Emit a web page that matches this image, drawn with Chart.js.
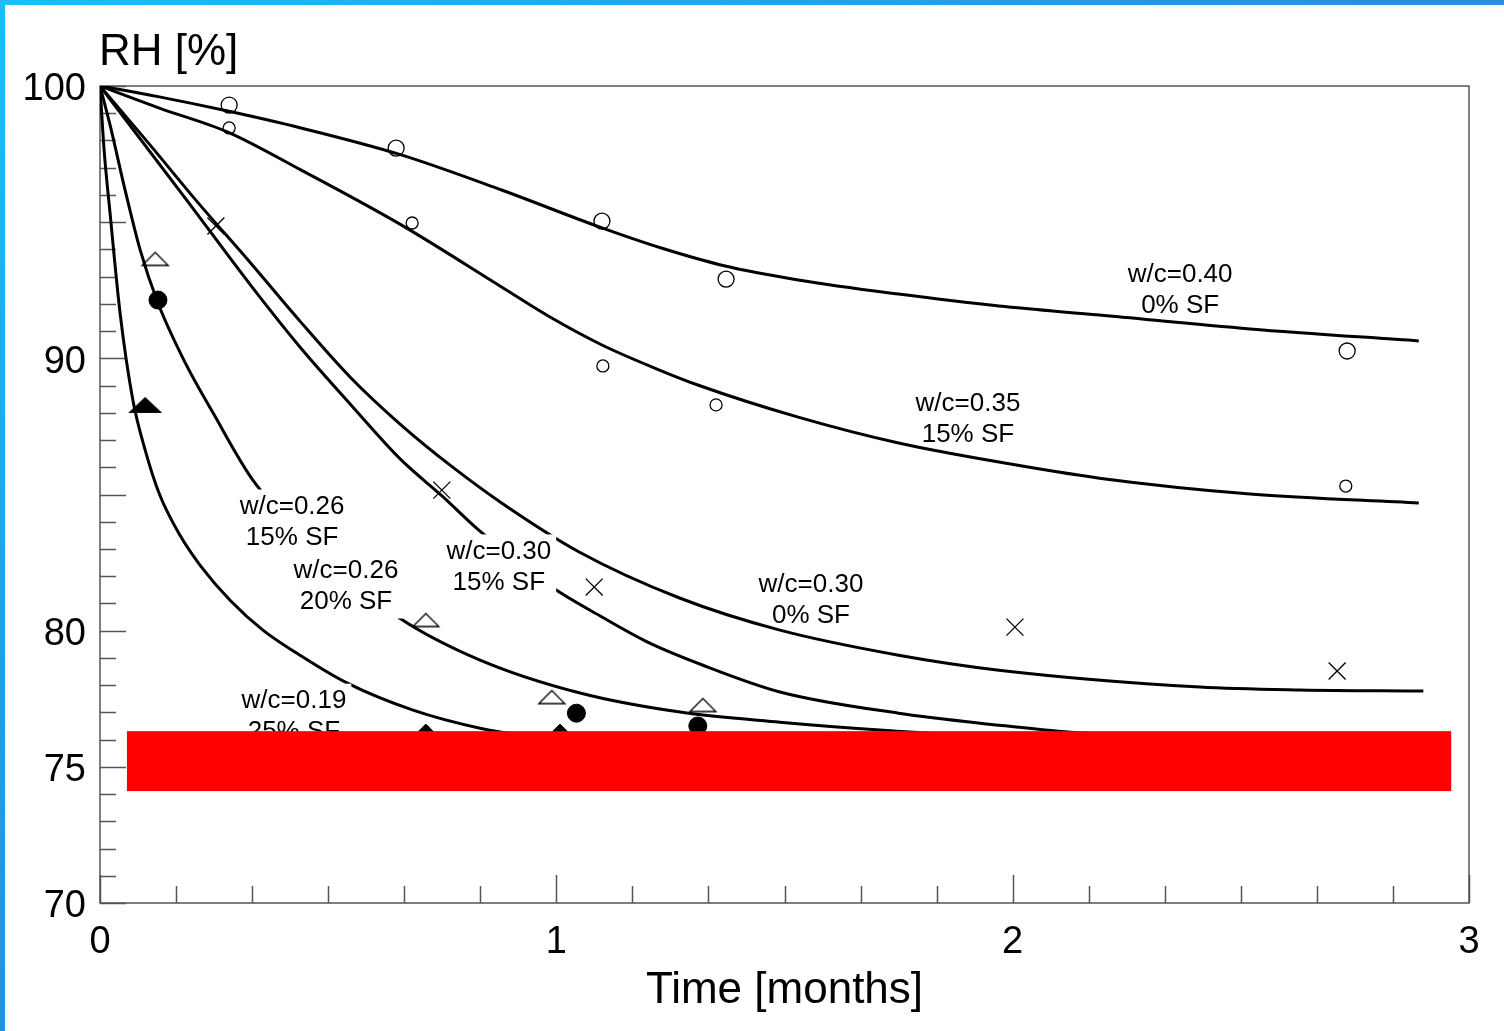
<!DOCTYPE html>
<html>
<head>
<meta charset="utf-8">
<script src="https://cdn.jsdelivr.net/npm/chart.js@4.4.0/dist/chart.umd.min.js"></script>
<style>
html, body { margin: 0; padding: 0; background: #fff; }
#wrap { position: relative; width: 1504px; height: 1031px; overflow: hidden; }
#chart { position: absolute; left: 0; top: 0; }
.band-top { position: absolute; left: 0; top: 0; width: 1504px; height: 5px; background: linear-gradient(to right, #14c1f7, #2b8bdf); }
.band-left { position: absolute; left: 0; top: 0; width: 5px; height: 1031px; background: linear-gradient(to bottom, #14c1f7, #2291e2); }
</style>
</head>
<body>
<div id="wrap">
  <canvas id="chart" width="1504" height="1031"></canvas>
  <div class="band-top"></div>
  <div class="band-left"></div>
</div>
<script>
// Achsen
const xTickLabels = [0, 1, 2, 3];
const yTickLabels = [70, 75, 80, 90, 100];

// Modellkurven: Zeit [Monate] / RH [%]
const t040 = [0, 0.13, 0.28, 0.44, 0.66, 0.88, 1.10, 1.23, 1.37, 1.53, 1.75, 1.97, 2.19, 2.52, 2.89];
const rh040 = [100, 99.60, 99.08, 98.46, 97.47, 96.18, 94.79, 94.05, 93.39, 92.88, 92.36, 91.92, 91.59, 91.08, 90.64];

const t035 = [0, 0.13, 0.28, 0.44, 0.66, 0.88, 0.99, 1.10, 1.21, 1.31, 1.53, 1.75, 1.97, 2.19, 2.52, 2.89];
const rh035 = [100, 99.19, 98.31, 96.92, 94.90, 92.62, 91.48, 90.49, 89.68, 89.02, 87.84, 86.89, 86.19, 85.60, 85.02, 84.69];

const t030sf0 = [0, 0.11, 0.21, 0.33, 0.44, 0.55, 0.66, 0.77, 0.88, 1.05, 1.27, 1.49, 1.75, 1.97, 2.41, 2.63, 2.90];
const rh030sf0 = [100, 97.83, 95.81, 93.50, 91.33, 89.28, 87.55, 86.04, 84.69, 82.89, 81.20, 80.02, 79.10, 78.55, 77.93, 77.82, 77.78];

const t030sf15 = [0, 0.19, 0.33, 0.44, 0.55, 0.66, 0.75, 0.83, 0.92, 0.99, 1.10, 1.20, 1.32, 1.49, 1.75, 1.97, 2.10, 2.41, 2.89];
const rh030sf15 = [100, 95.81, 92.69, 90.38, 88.29, 86.27, 84.94, 83.69, 82.52, 81.60, 80.50, 79.58, 78.74, 77.75, 76.97, 76.53, 76.31, 76.02, 75.76];

const t026 = [0, 0.022, 0.055, 0.088, 0.127, 0.186, 0.248, 0.335, 0.438, 0.548, 0.657, 0.833, 1.052, 1.271, 1.490, 1.709, 1.972, 2.410, 2.893];
const rh026 = [100, 98.57, 96.18, 93.98, 92.03, 89.86, 87.99, 85.53, 83.62, 81.93, 80.46, 78.92, 77.71, 77.01, 76.64, 76.35, 76.09, 75.87, 75.73];

const t019 = [0, 0.009, 0.022, 0.044, 0.072, 0.099, 0.131, 0.175, 0.219, 0.285, 0.357, 0.438, 0.541, 0.686, 0.833, 1.008, 1.315, 1.972, 2.893];
const rh019 = [100, 97.65, 95.34, 91.66, 88.47, 86.63, 84.98, 83.51, 82.41, 81.12, 80.02, 79.10, 78.08, 77.08, 76.42, 75.98, 75.62, 75.39, 75.32];

// Messwerte
const tCircleBig = [0.283, 0.649, 1.100, 1.372, 2.733];
const rhCircleBig = [99.30, 97.72, 95.04, 92.91, 90.27];
const tCircleSmall = [0.283, 0.684, 1.102, 1.350, 2.730];
const rhCircleSmall = [98.46, 94.97, 89.72, 88.29, 85.31];
const tCross = [0.254, 0.749, 1.083, 2.005, 2.711];
const rhCross = [94.86, 85.16, 81.60, 80.13, 78.52];
const tTriOpen = [0.121, 0.714, 0.990, 1.321];
const rhTriOpen = [93.65, 80.39, 77.56, 77.27];
const tDot = [0.127, 1.044, 1.310];
const rhDot = [92.14, 76.97, 76.50];
const tTriFilled = [0.099];
const rhTriFilled = [88.29];
const tDiamond = [0.714, 1.008];
const rhDiamond = [76.13, 76.13];

// Beschriftungen der Kurven (Mitte des Textblocks in Datenkoordinaten)
const curveLabels = [
    { lines: ['w/c=0.40', '0% SF'], x: 2.367, y: 92.51, clear: false },
    { lines: ['w/c=0.35', '15% SF'], x: 1.902, y: 87.77, clear: false },
    { lines: ['w/c=0.30', '0% SF'], x: 1.558, y: 81.12, clear: false },
    { lines: ['w/c=0.30', '15% SF'], x: 0.874, y: 82.34, clear: true },
    { lines: ['w/c=0.26', '15% SF'], x: 0.421, y: 83.99, clear: true },
    { lines: ['w/c=0.26', '20% SF'], x: 0.539, y: 81.64, clear: true },
    { lines: ['w/c=0.19', '25% SF'], x: 0.425, y: 76.86, clear: true }
];

// roter Balken über dem Diagramm
const maskBox = { x0: 0.059, x1: 2.961, y0: 76.31, y1: 74.11 };

const FONT = '"Liberation Sans", Arial, sans-serif';

function pts(xs, ys) {
    return xs.map((x, i) => ({ x: x, y: ys[i] }));
}

// flache Dreiecke als Punktsymbol
function makeTriangle(w, h, filled) {
    const c = document.createElement('canvas');
    c.width = w + 4;
    c.height = h + 4;
    const g = c.getContext('2d');
    g.beginPath();
    g.moveTo(2, h + 2);
    g.lineTo(w / 2 + 2, 2);
    g.lineTo(w + 2, h + 2);
    g.closePath();
    if (filled) {
        g.fillStyle = '#000';
        g.fill();
    } else {
        g.lineWidth = 1.3;
        g.strokeStyle = '#000';
        g.stroke();
    }
    return c;
}
const triOpen = makeTriangle(26, 13, false);
const triFilled = makeTriangle(34, 16, true);

function curve(xs, ys) {
    return {
        data: pts(xs, ys),
        showLine: true,
        pointRadius: 0,
        borderColor: '#000',
        borderWidth: 3,
        cubicInterpolationMode: 'monotone',
        fill: false
    };
}

function marks(xs, ys, style, radius, fillColor, bw) {
    return {
        data: pts(xs, ys),
        showLine: false,
        pointStyle: style,
        pointRadius: radius,
        pointBorderColor: '#000',
        pointBackgroundColor: fillColor,
        pointBorderWidth: bw
    };
}

// Achsenrahmen, Teilstriche, Texte
const decor = {
    id: 'decor',
    beforeDatasetsDraw(chart) {
        const ctx = chart.ctx;
        const a = chart.chartArea;
        const xs = chart.scales.x, ys = chart.scales.y;
        ctx.save();
        ctx.strokeStyle = '#555';
        ctx.lineWidth = 1.5;
        ctx.strokeRect(a.left, a.top, a.right - a.left, a.bottom - a.top);
        ctx.beginPath();
        for (let v = 70; v <= 100; v++) {
            const y = Math.round(ys.getPixelForValue(v)) + 0.5;
            const len = v % 5 === 0 ? 26 : 16;
            ctx.moveTo(a.left, y);
            ctx.lineTo(a.left + len, y);
        }
        for (let k = 0; k <= 18; k++) {
            const x = Math.round(xs.getPixelForValue(k / 6)) + 0.5;
            const len = k % 6 === 0 ? 28 : 17;
            ctx.moveTo(x, a.bottom);
            ctx.lineTo(x, a.bottom - len);
        }
        ctx.stroke();
        ctx.restore();
    },
    afterDatasetsDraw(chart) {
        const ctx = chart.ctx;
        const xs = chart.scales.x, ys = chart.scales.y;
        ctx.save();
        ctx.font = '26px ' + FONT;
        ctx.textAlign = 'center';
        ctx.textBaseline = 'middle';
        const lh = 31;
        curveLabels.forEach(l => {
            const cx = xs.getPixelForValue(l.x);
            const cy = ys.getPixelForValue(l.y);
            if (l.clear) {
                const w = Math.max(...l.lines.map(s => ctx.measureText(s).width)) + 10;
                ctx.fillStyle = '#fff';
                ctx.fillRect(cx - w / 2, cy - lh / 2 - 17, w, lh + 34);
            }
            ctx.fillStyle = '#000';
            ctx.fillText(l.lines[0], cx, cy - lh / 2);
            ctx.fillText(l.lines[1], cx, cy + lh / 2);
        });
        // roter Balken
        const x0 = xs.getPixelForValue(maskBox.x0), x1 = xs.getPixelForValue(maskBox.x1);
        const y0 = ys.getPixelForValue(maskBox.y0), y1 = ys.getPixelForValue(maskBox.y1);
        ctx.fillStyle = '#ff0000';
        ctx.fillRect(x0, y0, x1 - x0, y1 - y0);
        ctx.restore();
    },
    afterDraw(chart) {
        const ctx = chart.ctx;
        ctx.save();
        ctx.font = '44px ' + FONT;
        ctx.fillStyle = '#000';
        ctx.textAlign = 'left';
        ctx.textBaseline = 'alphabetic';
        ctx.fillText('RH [%]', chart.chartArea.left - 1, 65);
        ctx.restore();
    }
};

new Chart(document.getElementById('chart').getContext('2d'), {
    type: 'scatter',
    data: {
        datasets: [
            curve(t040, rh040),
            curve(t035, rh035),
            curve(t030sf0, rh030sf0),
            curve(t030sf15, rh030sf15),
            curve(t026, rh026),
            curve(t019, rh019),
            marks(tCircleBig, rhCircleBig, 'circle', 8, 'rgba(0,0,0,0)', 1.3),
            marks(tCircleSmall, rhCircleSmall, 'circle', 6, 'rgba(0,0,0,0)', 1.3),
            marks(tCross, rhCross, 'crossRot', 12, 'rgba(0,0,0,0)', 1.3),
            marks(tTriOpen, rhTriOpen, triOpen, 8, 'rgba(0,0,0,0)', 1),
            marks(tDot, rhDot, 'circle', 9, '#000', 1),
            marks(tTriFilled, rhTriFilled, triFilled, 8, '#000', 1),
            marks(tDiamond, rhDiamond, 'rectRot', 12, '#000', 1)
        ]
    },
    options: {
        responsive: false,
        animation: false,
        layout: { padding: { top: 86, right: 35, left: 0, bottom: 0 } },
        plugins: {
            legend: { display: false },
            tooltip: { enabled: false }
        },
        scales: {
            x: {
                type: 'linear',
                min: 0,
                max: 3,
                grid: { display: false, drawTicks: false },
                border: { display: false },
                afterBuildTicks: s => { s.ticks = xTickLabels.map(v => ({ value: v })); },
                afterFit: s => { s.height = 128; },
                ticks: { color: '#000', font: { family: FONT, size: 38 }, padding: 17, maxRotation: 0 },
                title: {
                    display: true,
                    text: 'Time [months]',
                    color: '#000',
                    font: { family: FONT, size: 44 },
                    padding: { top: 0, bottom: 14 }
                }
            },
            y: {
                min: 70,
                max: 100,
                grid: { display: false, drawTicks: false },
                border: { display: false },
                afterBuildTicks: s => { s.ticks = yTickLabels.map(v => ({ value: v })); },
                afterFit: s => { s.width = 100; },
                ticks: { color: '#000', font: { family: FONT, size: 38 }, padding: 14, labelOffset: 4 }
            }
        }
    },
    plugins: [decor]
});
</script>
</body>
</html>
